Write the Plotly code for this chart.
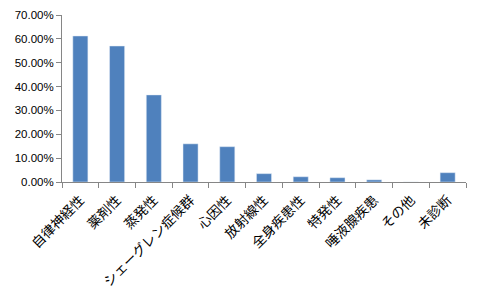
import plotly.graph_objects as go

categories = ["自律神経性", "薬剤性", "蒸発性", "シェーグレン症候群", "心因性", "放射線性",
              "全身疾患性", "特発性", "唾液腺疾患", "その他", "未診断"]
values = [0.612, 0.570, 0.365, 0.160, 0.148, 0.035, 0.022, 0.018, 0.009, 0.0, 0.039]

fig = go.Figure(go.Bar(x=categories, y=values, marker_color="#4F81BD", width=0.41))

fig.update_layout(
    width=482, height=290,
    margin=dict(l=62, r=16, t=15, b=108),
    paper_bgcolor="white", plot_bgcolor="white",
    showlegend=False,
    font=dict(family="Liberation Sans", color="black"),
)
fig.update_yaxes(range=[0, 0.7], dtick=0.1, tickformat=".2%", showgrid=False,
                 showline=True, linecolor="#868686", linewidth=1,
                 ticks="outside", ticklen=5, tickcolor="#868686",
                 tickfont=dict(size=11.5, family="Liberation Sans"), zeroline=False,
                 automargin=False)
fig.update_xaxes(showline=True, linecolor="#868686", linewidth=1,
                 ticks="outside", ticklen=5, tickcolor="#868686", tickson="boundaries",
                 tickangle=-45, tickfont=dict(size=13.5, family="Noto Sans CJK JP"),
                 ticklabelstandoff=4,
                 showgrid=False, automargin=False)

fig.write_html("out.html")
